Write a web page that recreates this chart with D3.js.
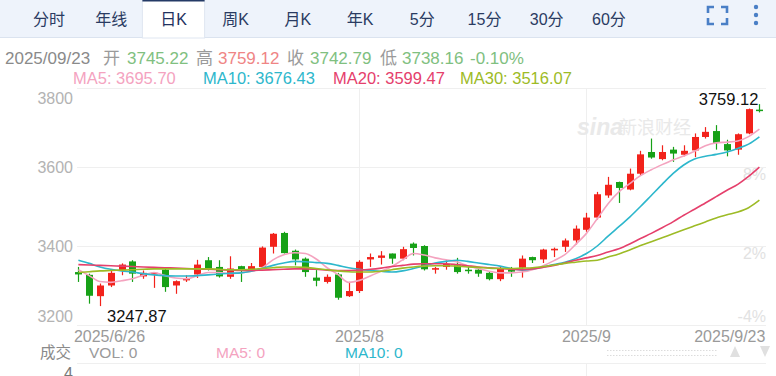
<!DOCTYPE html>
<html>
<head>
<meta charset="utf-8">
<script src="https://cdn.jsdelivr.net/npm/d3@7"></script>
<style>
    body { margin: 0; background: #fff; }
    svg { display: block; font-family: "Liberation Sans", Arial, "Noto Sans CJK SC", sans-serif; }
</style>
</head>
<body>
<svg id="chart" width="776" height="376"></svg>
<script>
// tabs across the top
var tabs = ["分时", "年线", "日K", "周K", "月K", "年K", "5分", "15分", "30分", "60分"];
var activeTab = "日K";

// trading days, 2025/6/26 .. 2025/9/23
var days = ["6/26","6/27","6/30",
    "7/1","7/2","7/3","7/4","7/7","7/8","7/9","7/10","7/11","7/14","7/15","7/16","7/17","7/18",
    "7/21","7/22","7/23","7/24","7/25","7/28","7/29","7/30","7/31",
    "8/1","8/4","8/5","8/6","8/7","8/8","8/11","8/12","8/13","8/14","8/15","8/18","8/19","8/20",
    "8/21","8/22","8/25","8/26","8/27","8/28","8/29",
    "9/1","9/2","9/3","9/4","9/5","9/8","9/9","9/10","9/11","9/12","9/15","9/16","9/17","9/18",
    "9/19","9/22","9/23"];

var open = [3334,3327,3273,3300,3339,3361,3323,3329,3340,3300,3313,3328,3364,3347,3322,3349,3340,3347,3398,3433,
    3388,3368,3320,3309,3328,3273,3286,3366,3370,3381,3368,3406,3400,3340,3347,3351,3340,3340,3332,3316,
    3340,3345,3372,3366,3389,3398,3414,3441,3472,3528,3562,3543,3583,3638,3620,3644,3631,3642,3676,3691,
    3658,3644,3685,3745.22];
var high = [3347,3330,3305,3338,3356,3364,3338,3334,3343,3313,3326,3365,3372,3364,3374,3350,3357,3399,3433,3436,
    3391,3371,3339,3328,3332,3309,3364,3381,3387,3381,3398,3409,3402,3347,3364,3370,3347,3347,3334,3347,
    3347,3376,3373,3393,3396,3419,3452,3484,3537,3575,3563,3596,3641,3672,3655,3651,3655,3685,3701,3706,
    3669,3685,3748,3759.12];
var low = [3309,3254,3247.87,3296,3326,3309,3317,3294,3284,3279,3309,3319,3338,3320,3317,3309,3338,3345,3381,3381,
    3351,3322,3298,3305,3264,3271,3281,3347,3353,3355,3364,3376,3338,3330,3340,3330,3330,3322,3313,3311,
    3322,3320,3357,3357,3372,3385,3404,3436,3467,3522,3509,3541,3579,3621,3617,3613,3627,3625,3672,3644,
    3627,3631,3683,3738.16];
var close = [3328,3274,3300,3332,3353,3330,3332,3332,3296,3311,3319,3353,3343,3323,3343,3340,3349,3396,3431,3382,
    3366,3334,3312,3322,3269,3286,3360,3372,3376,3368,3392,3395,3341,3344,3355,3334,3337,3330,3316,3343,
    3335,3368,3364,3391,3393,3414,3444,3472,3531,3555,3547,3583,3632,3624,3638,3634,3641,3676,3689,3661,
    3642,3683,3746.52,3742.79];

// moving averages
var ma5 = [3340,3325,3310,3308,3312,3317,3326,3333,3325,3319,3317,3325,3333,3333,3330,3332,3336,3345,3365,3378,
    3383,3381,3367,3345,3328,3308,3313,3324,3336,3348,3365,3381,3377,3370,3365,3360,3350,3343,3336,3332,
    3332,3334,3340,3350,3363,3378,3404,3432,3469,3507,3537,3558,3578,3593,3606,3618,3628,3640,3654,3661,
    3663,3666,3677,3695.70];
var ma10 = [3364,3356,3347,3341,3337,3334,3330,3327,3325,3324,3324,3325,3327,3329,3331,3332,3336,3343,3351,3357,
    3361,3360,3358,3356,3351,3345,3341,3338,3336,3334,3337,3343,3350,3357,3361,3364,3361,3357,3353,3349,
    3343,3339,3342,3347,3353,3359,3368,3381,3400,3425,3449,3473,3500,3528,3556,3583,3605,3620,3627,3632,
    3638,3647,3658,3676.43];
var ma20 = [3353,3352,3351,3350,3349,3348,3347,3346,3345,3344,3343,3342,3341,3340,3339,3338,3338,3339,3340,3341,
    3342,3342,3341,3339,3338,3338,3339,3341,3344,3348,3351,3354,3355,3355,3355,3353,3350,3347,3345,3343,
    3341,3340,3342,3346,3351,3357,3364,3370,3376,3385,3393,3405,3419,3432,3446,3461,3478,3493,3509,3525,
    3541,3556,3576,3599.47];
var ma30 = [3333,3335,3337,3338,3339,3340,3341,3342,3342,3342,3342,3342,3342,3341,3340,3340,3341,3343,3345,3347,
    3347,3346,3343,3340,3337,3335,3334,3334,3336,3340,3344,3347,3349,3350,3350,3349,3347,3346,3344,3343,
    3343,3344,3345,3348,3352,3356,3359,3362,3364,3372,3380,3390,3401,3411,3421,3431,3441,3451,3461,3471,
    3479,3486,3497,3516.07];

var priceTicks = [3800, 3600, 3400, 3200];
var pctTicks = [8, 2, -4];
var pctBase = 3316;
var dateTicks = ["6/26", "8/1", "9/1", "9/23"];
var dateTickText = ["2025/6/26", "2025/8", "2025/9", "2025/9/23"];

var maNames = ["MA5", "MA10", "MA20", "MA30"];
var maColors = ["#f4a3bf", "#2db7cc", "#e5406c", "#9dbb26"];
var maLabelX = [73, 203, 333, 460];

var UP = "#f2221b", DOWN = "#17a117";

var svg = d3.select("#chart");

// ---- tab bar ----
var tabX = d3.scaleBand().domain(tabs).range([18, 18 + 62.2 * tabs.length]);
svg.append("rect").attr("x", 0).attr("y", 0).attr("width", 776).attr("height", 37).attr("fill", "#eef3fb");
svg.append("line").attr("x1", 0).attr("x2", 776).attr("y1", 37.5).attr("y2", 37.5).attr("stroke", "#dbe3ef");
svg.append("rect")
    .attr("x", tabX(activeTab)).attr("y", 0)
    .attr("width", tabX.bandwidth()).attr("height", 38)
    .attr("fill", "#fff").attr("stroke", "#dfe6f1");
svg.append("line")
    .attr("x1", tabX(activeTab)).attr("x2", tabX(activeTab) + tabX.bandwidth())
    .attr("y1", 0.75).attr("y2", 0.75).attr("stroke", "#243a66").attr("stroke-width", 1.5);
svg.selectAll("text.tab").data(tabs).enter().append("text")
    .attr("class", "tab")
    .attr("x", function (d) { return tabX(d) + tabX.bandwidth() / 2; })
    .attr("y", 25)
    .attr("text-anchor", "middle")
    .attr("font-size", 16)
    .attr("fill", function (d) { return d == activeTab ? "#1f3160" : "#2a3b62"; })
    .text(function (d) { return d; });

// fullscreen + menu icons
var icon = svg.append("g").attr("stroke", "#4a7fc6").attr("stroke-width", 2.6).attr("fill", "none");
[[708, 7, 1, 1], [727, 7, -1, 1], [708, 24, 1, -1], [727, 24, -1, -1]].forEach(function (c) {
    icon.append("path").attr("d", "M" + c[0] + "," + (c[1] + 6 * c[3]) + "V" + c[1] + "H" + (c[0] + 6 * c[2]));
});
[7, 15, 23].forEach(function (cy) {
    svg.append("circle").attr("cx", 756).attr("cy", cy).attr("r", 2.2).attr("fill", "#4a7fc6");
});

// ---- info lines ----
var last = days.length - 1;
var chg = (close[last] / close[last - 1] - 1) * 100;
var info = [
    ["2025/09/23", 5, "#8a8a8a"], ["开", 103, "#9a9a9a"], [open[last].toFixed(2), 127, "#80c080"],
    ["高", 196, "#9a9a9a"], [high[last].toFixed(2), 218, "#ef8585"],
    ["收", 287, "#9a9a9a"], [close[last].toFixed(2), 310, "#80c080"],
    ["低", 380, "#9a9a9a"], [low[last].toFixed(2), 402, "#80c080"],
    [chg.toFixed(2) + "%", 470, "#80c080"]
];
svg.selectAll("text.info").data(info).enter().append("text")
    .attr("class", "info")
    .attr("x", function (d) { return d[1]; })
    .attr("y", 64)
    .attr("font-size", 17)
    .attr("fill", function (d) { return d[2]; })
    .text(function (d) { return d[0]; });

var maData = [ma5, ma10, ma20, ma30];
svg.selectAll("text.malab").data(maNames).enter().append("text")
    .attr("class", "malab")
    .attr("x", function (d, i) { return maLabelX[i]; })
    .attr("y", 84)
    .attr("font-size", 16.5)
    .attr("fill", function (d, i) { return maColors[i]; })
    .text(function (d, i) { return d + ": " + maData[i][last].toFixed(2); });

// ---- price panel ----
var x = d3.scalePoint().domain(d3.range(days.length)).range([78.4, 759.4]);
var y = d3.scaleLinear().domain([3200, 3800]).range([325, 88]);
var bodyW = 7;

var grid = svg.append("g").attr("stroke", "#efefef").attr("stroke-width", 1);
priceTicks.forEach(function (v) {
    grid.append("line").attr("x1", 77).attr("x2", 766)
        .attr("y1", Math.round(y(v)) + 0.5).attr("y2", Math.round(y(v)) + 0.5);
});
dateTicks.slice(1, 3).forEach(function (d) {
    var xx = Math.round(x(days.indexOf(d))) + 0.5;
    grid.append("line").attr("x1", xx).attr("x2", xx).attr("y1", 88).attr("y2", 325);
    grid.append("line").attr("x1", xx).attr("x2", xx).attr("y1", 363).attr("y2", 376);
});

svg.selectAll("text.ptick").data(priceTicks).enter().append("text")
    .attr("class", "ptick")
    .attr("x", 73)
    .attr("y", function (v) { return Math.min(Math.max(y(v), 98), 316.5) + 5.8; })
    .attr("text-anchor", "end")
    .attr("font-size", 16)
    .attr("fill", "#b3b3b3")
    .text(function (v) { return v; });

svg.selectAll("text.pct").data(pctTicks).enter().append("text")
    .attr("class", "pct")
    .attr("x", 766)
    .attr("y", function (p) { return Math.min(Math.max(y(pctBase * (1 + p / 100)), 98), 316.5) + 5.8; })
    .attr("text-anchor", "end")
    .attr("font-size", 16)
    .attr("fill", "#e2e2e2")
    .text(function (p) { return p + "%"; });

// watermark
var wm = svg.append("g").attr("fill", "#e9e9e9");
wm.append("text").attr("x", 577).attr("y", 135).attr("font-size", 23).attr("font-weight", "bold")
    .attr("font-style", "italic").text("sina");
wm.append("text").attr("x", 619).attr("y", 134).attr("font-size", 18).text("新浪财经");

// candles
var candles = svg.append("g").selectAll("g").data(d3.range(days.length)).enter().append("g")
    .attr("fill", function (i) { return close[i] >= open[i] ? UP : DOWN; })
    .attr("stroke", function (i) { return close[i] >= open[i] ? UP : DOWN; });
candles.append("line")
    .attr("x1", function (i) { return Math.round(x(i)) + 0.5; })
    .attr("x2", function (i) { return Math.round(x(i)) + 0.5; })
    .attr("y1", function (i) { return y(high[i]); })
    .attr("y2", function (i) { return y(low[i]); })
    .attr("stroke-width", 1.2);
candles.append("rect")
    .attr("x", function (i) { return Math.round(x(i)) + 0.5 - bodyW / 2; })
    .attr("y", function (i) { return y(Math.max(open[i], close[i])); })
    .attr("width", bodyW)
    .attr("height", function (i) { return Math.max(1.5, Math.abs(y(open[i]) - y(close[i]))); })
    .attr("stroke", "none");

// moving averages
var line = d3.line()
    .x(function (v, i) { return x(i); })
    .y(function (v) { return y(v); })
    .curve(d3.curveMonotoneX);
svg.append("g").selectAll("path").data(maData).enter().append("path")
    .attr("d", line)
    .attr("fill", "none")
    .attr("stroke", function (d, i) { return maColors[i]; })
    .attr("stroke-width", 1.6);

// extreme labels
var hiIdx = d3.maxIndex(high), loIdx = d3.minIndex(low);
svg.append("text")
    .attr("x", x(hiIdx) - 1).attr("y", y(high[hiIdx]) + 1)
    .attr("text-anchor", "end").attr("font-size", 16.5).attr("fill", "#111")
    .text(high[hiIdx].toFixed(2));
svg.append("text")
    .attr("x", x(loIdx) + 7).attr("y", y(low[loIdx]) + 16)
    .attr("font-size", 16.5).attr("fill", "#111")
    .text(low[loIdx].toFixed(2));

// date axis labels
svg.selectAll("text.dtick").data(dateTicks).enter().append("text")
    .attr("class", "dtick")
    .attr("x", function (d, i) {
        var xx = x(days.indexOf(d));
        return i == 0 ? xx - 4.5 : (i == dateTicks.length - 1 ? xx + 6 : xx);
    })
    .attr("y", 342)
    .attr("text-anchor", function (d, i) { return i == 0 ? "start" : (i == dateTicks.length - 1 ? "end" : "middle"); })
    .attr("font-size", 16)
    .attr("fill", "#9a9a9a")
    .text(function (d, i) { return dateTickText[i]; });

// ---- volume panel header ----
var vol = [["成交", 40, "#8a8a8a"], ["VOL: 0", 89, "#9a9a9a"], ["MA5: 0", 216, maColors[0]], ["MA10: 0", 345, maColors[1]]];
svg.selectAll("text.vol").data(vol).enter().append("text")
    .attr("class", "vol")
    .attr("x", function (d) { return d[1]; })
    .attr("y", 358)
    .attr("font-size", 15.5)
    .attr("fill", function (d) { return d[2]; })
    .text(function (d) { return d[0]; });
svg.append("line").attr("x1", 77).attr("x2", 766).attr("y1", 363.5).attr("y2", 363.5).attr("stroke", "#efefef");
svg.append("text").attr("x", 73).attr("y", 379).attr("text-anchor", "end").attr("font-size", 16)
    .attr("fill", "#777").text("4");

// scroll control
[350.5, 355.5].forEach(function (yy) {
    svg.append("line").attr("x1", 607).attr("x2", 717).attr("y1", yy).attr("y2", yy)
        .attr("stroke", "#dcdcdc").attr("stroke-dasharray", "1.5,1.5");
});
svg.append("path").attr("d", "M735,346L740,357H730Z").attr("fill", "#e0e0e0");
svg.append("path").attr("d", "M765,357L770,346H760Z").attr("fill", "#e0e0e0");
</script>
</body>
</html>
